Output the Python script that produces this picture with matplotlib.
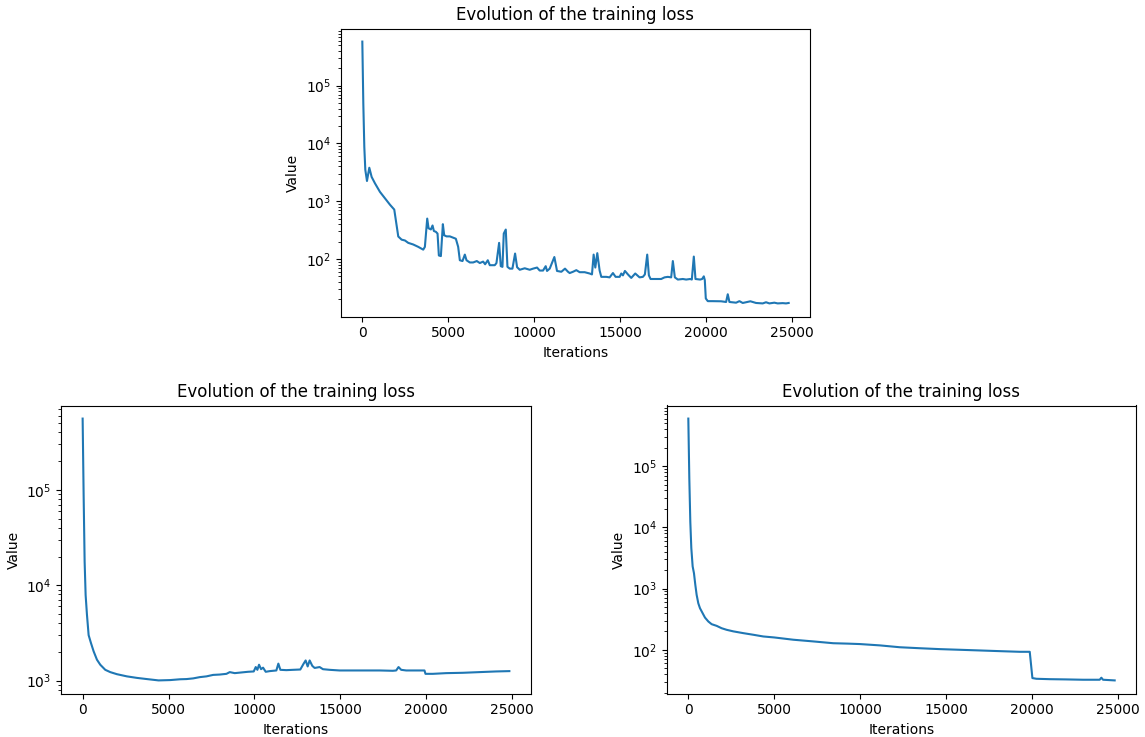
import matplotlib
matplotlib.use("Agg")
import matplotlib.pyplot as plt

# loss curves (iteration, loss)
top_it = [0, 58, 116, 174, 271, 407, 543, 736, 1027, 1318, 1609, 1860, 2093, 2287,
          2481, 2674, 2965, 3256, 3547, 3643, 3779, 3857, 3992, 4089, 4167, 4283,
          4380, 4457, 4574, 4690, 4767, 4903, 5097, 5291, 5446, 5581, 5678, 5833,
          5969, 6066, 6260, 6453, 6667, 6841, 7035, 7151, 7306, 7422, 7713, 7810,
          7965, 8062, 8159, 8236, 8353, 8450, 8585, 8740, 8895, 9012, 9167, 9457,
          9748, 9942, 10174, 10329, 10523, 10678, 10756, 10911, 11182, 11337, 11589,
          11802, 11977, 12074, 12267, 12461, 12655, 12946, 13236, 13372, 13469,
          13566, 13682, 13818, 13915, 14205, 14399, 14593, 14748, 14981, 15078,
          15174, 15291, 15465, 15659, 15891, 16143, 16337, 16453, 16589, 16686,
          16783, 17112, 17403, 17597, 17791, 17984, 18081, 18198, 18372, 18663,
          18857, 19089, 19186, 19302, 19399, 19671, 19787, 19884, 19942, 20000,
          20116, 20407, 20891, 21182, 21279, 21376, 21764, 21957, 22151, 22345,
          22597, 22926, 23314, 23508, 23702, 23992, 24186, 24477, 24671, 24826]
top_loss = [580000, 49000, 8700, 3500, 2240, 3800, 2630, 2040, 1450, 1120, 870, 716,
            245, 216, 209, 190, 178, 162, 145, 162, 500, 340, 324, 380, 305, 295,
            275, 115, 112, 400, 257, 246, 246, 234, 224, 162, 95, 92, 119, 95, 87,
            87, 92, 85, 90, 81, 95, 78, 78, 85, 190, 75, 73, 275, 323, 73, 68, 68,
            124, 72, 65, 69, 65, 68, 71, 63, 63, 75, 62, 68, 108, 62, 60, 68, 60,
            57, 60, 64, 59, 59, 56, 54, 119, 71, 126, 63, 49, 49, 48, 57, 49, 49,
            56, 52, 62, 54, 47, 56, 48, 49, 54, 119, 52, 45, 45, 45, 48, 49, 48,
            92, 48, 44, 45, 44, 45, 44, 110, 45, 44, 45, 50, 43, 20.7, 18.6, 18.6,
            18.5, 18.0, 24.5, 18.0, 17.5, 18.6, 17.3, 17.8, 18.5, 17.3, 17.0, 17.8,
            17.0, 17.5, 17.0, 17.2, 17.0, 17.3]

left_it = [0, 58, 116, 174, 252, 349, 485, 640, 833, 1027, 1318, 1609, 1996, 2578,
           3159, 3740, 4419, 5097, 5678, 6047, 6434, 6822, 7209, 7597, 7984, 8372,
           8566, 8857, 9244, 9632, 9961, 10078, 10174, 10271, 10388, 10504, 10659,
           10892, 11279, 11395, 11512, 11861, 12248, 12674, 12868, 12984, 13101,
           13217, 13372, 13508, 13798, 13992, 14380, 14961, 15736, 16512, 17287,
           18062, 18256, 18392, 18547, 18837, 19225, 19903, 19961, 20388, 21163,
           22132, 23101, 24070, 24845]
left_loss = [557000, 88000, 17700, 7900, 4900, 3000, 2480, 2030, 1660, 1470, 1300,
             1230, 1170, 1110, 1070, 1040, 1007, 1015, 1035, 1040, 1057, 1090, 1110,
             1150, 1160, 1180, 1230, 1200, 1220, 1240, 1250, 1390, 1300, 1470, 1320,
             1370, 1240, 1260, 1280, 1510, 1300, 1290, 1300, 1310, 1510, 1630, 1410,
             1630, 1430, 1360, 1390, 1320, 1300, 1280, 1280, 1280, 1280, 1270, 1280,
             1390, 1300, 1280, 1280, 1280, 1180, 1180, 1200, 1210, 1230, 1250, 1260]

right_it = [0, 58, 116, 174, 252, 329, 407, 484, 581, 678, 833, 969, 1163, 1357,
            1647, 1938, 2229, 2616, 3198, 3779, 4360, 5000, 6105, 7267, 8430, 9302,
            9981, 11143, 12306, 13469, 14632, 15795, 16957, 18120, 19283, 19864,
            20019, 20252, 21027, 21996, 22965, 23934, 24031, 24128, 24806]
right_loss = [598000, 63000, 12300, 4600, 2300, 1780, 1150, 790, 575, 478, 396, 336,
              290, 262, 246, 225, 212, 200, 187, 176, 165, 159, 146, 137, 128, 126,
              124, 118, 110, 106, 102.5, 100, 97.5, 95, 92.7, 92.7, 34.5, 33.6, 33.1,
              32.8, 32.4, 32.4, 35.0, 32.4, 31.6]

W, H = 1145, 737
fig = plt.figure(figsize=(W / 100, H / 100), dpi=100)

def px_axes(x0, x1, y0, y1):
    return fig.add_axes([x0 / W, (H - y1) / H, (x1 - x0) / W, (y1 - y0) / H])

ax_top = px_axes(341, 810, 28.5, 316.5)
ax_left = px_axes(61.3, 530.7, 405.5, 693.5)
ax_right = px_axes(667, 1136, 405.5, 693.5)

for ax, it, loss in [(ax_top, top_it, top_loss),
                     (ax_left, left_it, left_loss),
                     (ax_right, right_it, right_loss)]:
    ax.plot(it, loss)
    ax.set_yscale("log")
    ax.set_title("Evolution of the training loss")
    ax.set_xlabel("Iterations")
    ax.set_ylabel("Value")

fig.savefig("out.png", dpi=100)
